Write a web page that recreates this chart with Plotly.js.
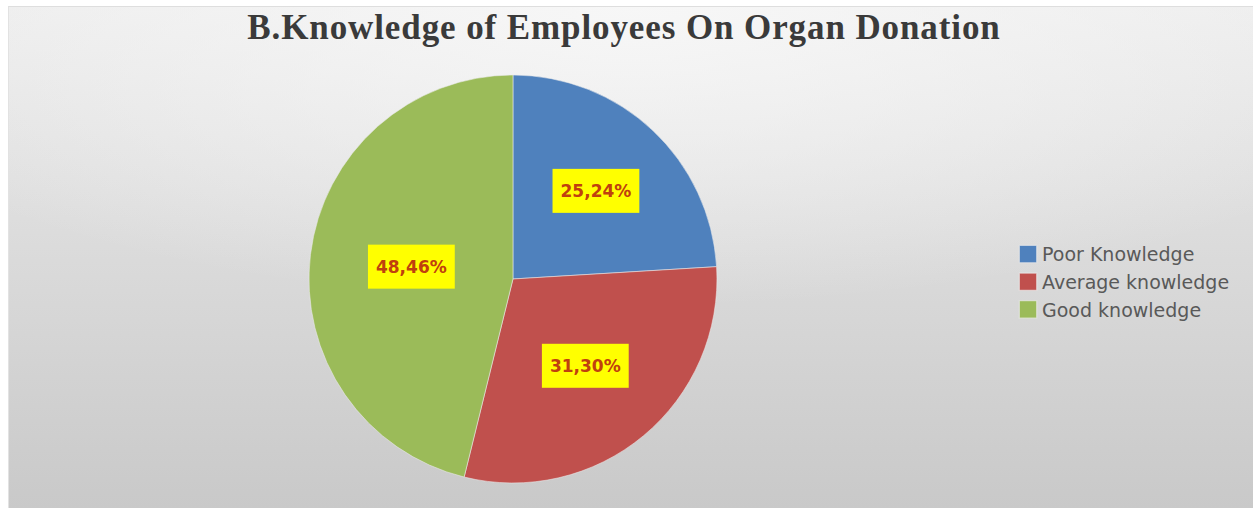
<!DOCTYPE html>
<html>
<head>
<meta charset="utf-8">
<script src="https://cdn.plot.ly/plotly-3.0.1.min.js"></script>
<style>
  html, body { margin: 0; padding: 0; background: #ffffff; }
  #wrap { position: relative; width: 1253px; height: 508px; overflow: hidden; }
  #bg {
    position: absolute; left: 8px; top: 6px; right: 0; bottom: 0;
    background:
      radial-gradient(ellipse 70% 60% at 50% 0%, rgba(248,248,248,0.9), rgba(248,248,248,0) 100%),
      linear-gradient(to bottom, #ececec 0%, #dcdcdc 45%, #c9c9c9 100%);
    border-top: 1px solid #dedede; border-left: 1px solid #e2e2e2;
  }
  #chart { position: absolute; left: 0; top: 0; width: 1253px; height: 508px; }
  #chart .gtitle { letter-spacing: 0.9px; }
</style>
</head>
<body>
<div id="wrap">
  <div id="bg"></div>
  <div id="chart"></div>
</div>
<script>
// ---- data ----
const chartTitle = "B.Knowledge of Employees On Organ Donation";
const categories = ["Poor Knowledge", "Average knowledge", "Good knowledge"];
const values = [25.24, 31.30, 48.46];
const sliceColors = ["#4F81BD", "#C0504D", "#9BBB59"];

const labelText = values.map(v => v.toFixed(2).replace('.', ',') + '%');

const trace = {
  type: 'pie',
  labels: categories,
  values: values,
  text: labelText,
  textinfo: 'text',
  textposition: 'inside',
  insidetextorientation: 'horizontal',
  insidetextfont: { family: 'DejaVu Sans', size: 17, color: '#C0400E', weight: 'bold' },
  sort: false,
  direction: 'clockwise',
  rotation: 0,
  marker: { colors: sliceColors, line: { color: 'rgba(235,235,235,0.7)', width: 0.8 } },
  domain: { x: [0.2466, 0.5722], y: [0.0492, 0.8524] },
  hoverinfo: 'none'
};

const layout = {
  width: 1253, height: 508,
  margin: { l: 0, r: 0, t: 0, b: 0 },
  paper_bgcolor: 'rgba(0,0,0,0)',
  plot_bgcolor: 'rgba(0,0,0,0)',
  title: {
    text: chartTitle,
    font: { family: 'Liberation Serif', size: 35, color: '#3a3a3a', weight: 'bold' },
    x: 0.498, xanchor: 'center', y: 0.948, yanchor: 'middle'
  },
  showlegend: true,
  legend: {
    x: 0.7997, xanchor: 'left', y: 0.537, yanchor: 'top',
    font: { family: 'DejaVu Sans', size: 19, color: '#595959' },
    bgcolor: 'rgba(0,0,0,0)', traceorder: 'normal'
  }
};

Plotly.newPlot('chart', [trace], layout, { displayModeBar: false, staticPlot: true }).then(function () {
  const NS = 'http://www.w3.org/2000/svg';
  document.querySelectorAll('#chart g.slicetext').forEach(function (g) {
    const t = g.querySelector('text');
    if (!t) return;
    const bb = t.getBBox();
    const padX = 8, padY = 12;
    const r = document.createElementNS(NS, 'rect');
    r.setAttribute('x', bb.x - padX);
    r.setAttribute('y', bb.y - padY);
    r.setAttribute('width', bb.width + 2 * padX);
    r.setAttribute('height', bb.height + 2 * padY);
    r.setAttribute('fill', '#FFFF00');
    const tr = t.getAttribute('transform');
    if (tr) r.setAttribute('transform', tr);
    g.insertBefore(r, t);
  });
  // enlarge legend swatches to match the square keys of the reference
  document.querySelectorAll('#chart .legendpoints path').forEach(function (p) {
    const tr = p.getAttribute('transform') || '';
    p.setAttribute('transform', tr + ' translate(6,0) scale(1.45)');
  });
});
</script>
</body>
</html>
